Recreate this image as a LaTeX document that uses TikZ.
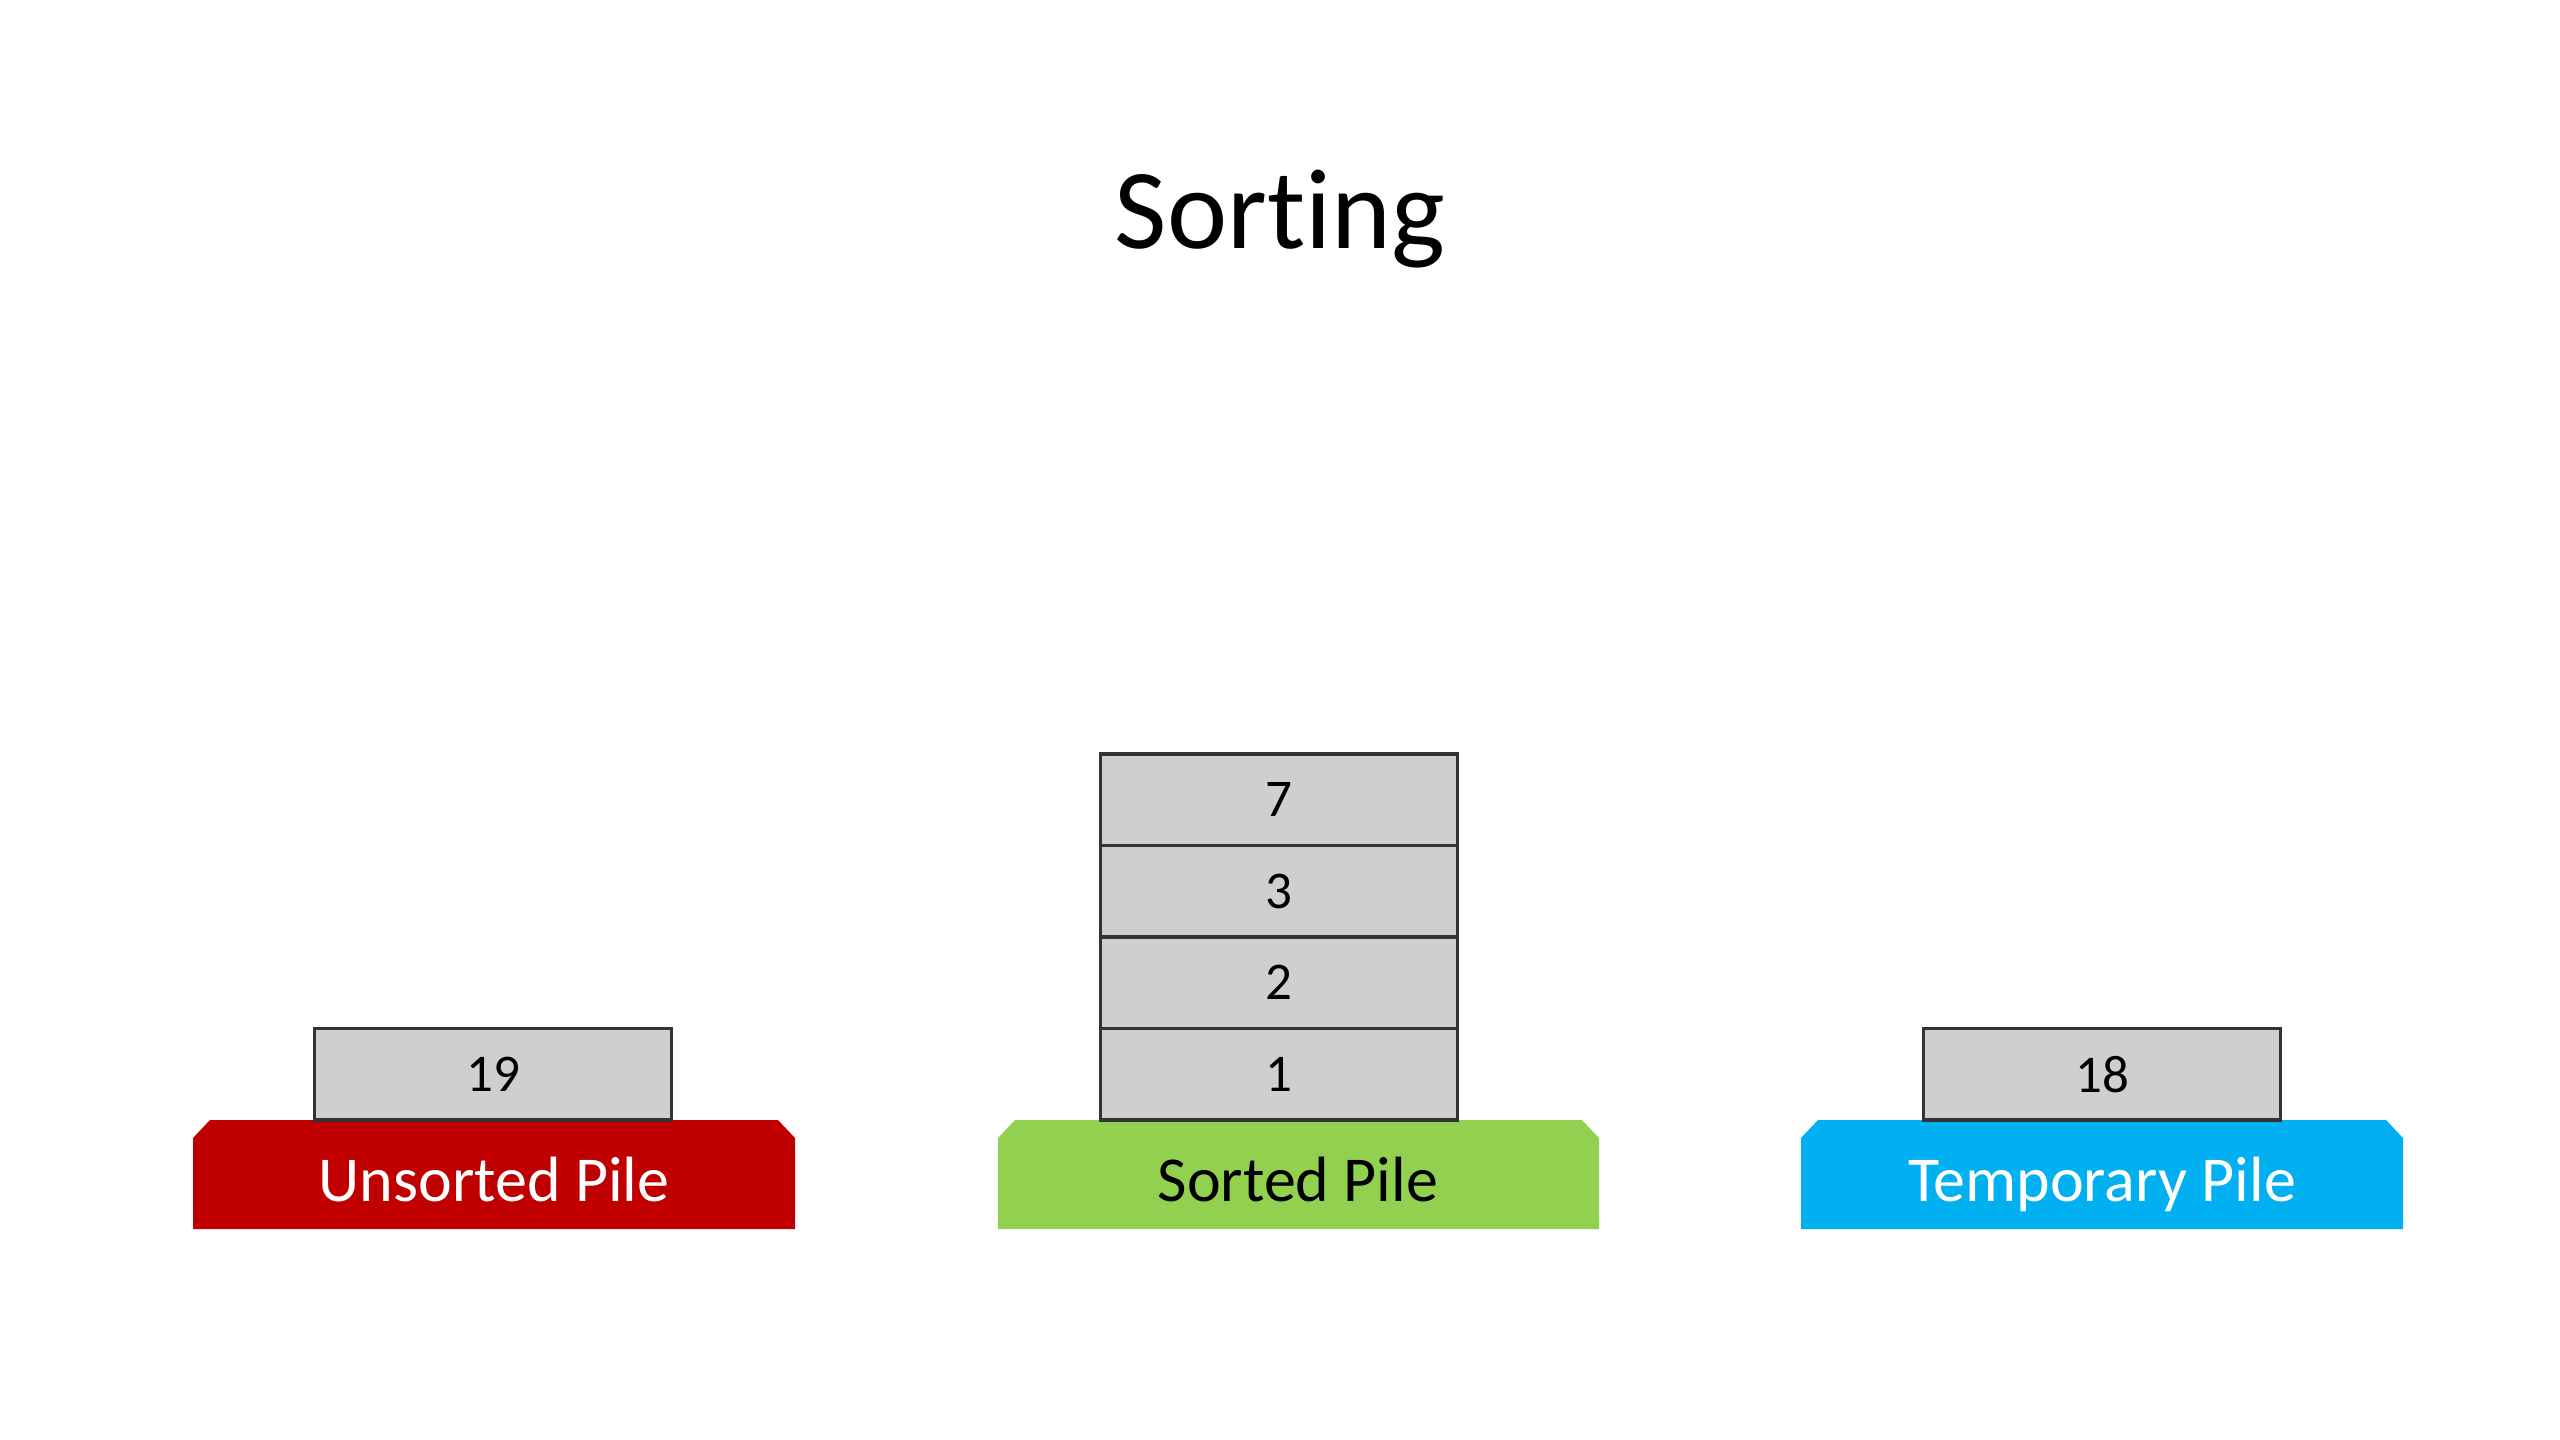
\documentclass[tikz,border=0pt]{standalone}
\usepackage{fontspec}
\setmainfont[Ligatures=NoCommon]{Carlito}
\definecolor{pilered}{HTML}{C00000}
\definecolor{pilegreen}{HTML}{92D050}
\definecolor{pileblue}{HTML}{00B0F0}
\definecolor{cardgray}{HTML}{D0CECE}
\definecolor{cardline}{HTML}{333333}
\tikzset{
  card/.style={draw=cardline, line width=3.2pt, fill=cardgray, minimum width=357pt, minimum height=91.5pt, inner sep=0pt, font=\fontsize{53}{53}\selectfont},
  pilelabel/.style={anchor=base, inner sep=0pt, font=\fontsize{64}{64}\selectfont},
}
\newcommand{\pilebase}[3]{% left x, right x, colour
  \fill[#3] (#1,1229) -- (#1,1138) -- ({#1+17},1120) -- ({#2-17},1120) -- (#2,1138) -- (#2,1229) -- cycle;}
\begin{document}
\begin{tikzpicture}[x=1pt,y=-1pt]
\useasboundingbox (0,0) rectangle (2560,1440);
\fill[white] (0,0) rectangle (2560,1440);
\node[anchor=base, inner sep=0pt, font=\fontsize{114}{114}\selectfont] (title) at (1280,248) {Sorting};
% bases
\pilebase{193}{795}{pilered}
\pilebase{998}{1599}{pilegreen}
\pilebase{1801}{2403}{pileblue}
\node[pilelabel, text=white] (unsorted) at (494,1201) {Unsorted Pile};
\node[pilelabel, text=black] (sorted) at (1298,1201) {Sorted Pile};
\node[pilelabel, text=white] (temporary) at (2102,1201) {Temporary Pile};
% cards
\node[card] (c19) at (493,1074.25) {19};
\node[card] (c1) at (1279,1074.25) {1};
\node[card] (c2) at (1279,982.75) {2};
\node[card] (c3) at (1279,891.25) {3};
\node[card] (c7) at (1279,799.75) {7};
\node[card] (c18) at (2102,1074.25) {18};
\end{tikzpicture}
\end{document}
